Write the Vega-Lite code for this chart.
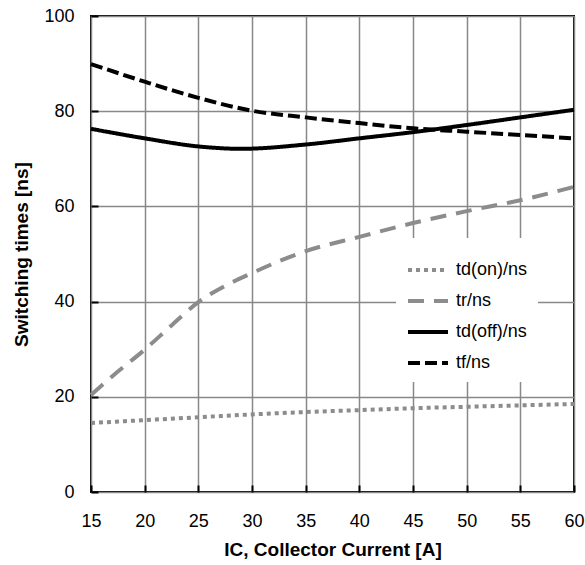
{
  "$schema": "https://vega.github.io/schema/vega-lite/v6.json",
  "width": 483,
  "height": 476,
  "autosize": {"type": "none"},
  "padding": {"left": 91, "top": 16, "right": 11, "bottom": 73},
  "background": "white",
  "config": {
    "font": "Liberation Sans",
    "view": {"stroke": "black", "strokeWidth": 2},
    "axis": {
      "gridColor": "#888888",
      "gridWidth": 1.5,
      "gridOpacity": 1,
      "domain": false,
      "tickColor": "black",
      "tickWidth": 2,
      "tickSize": -7,
      "labelFont": "Liberation Sans",
      "labelFontSize": 18,
      "labelColor": "black",
      "labelFlush": false,
      "labelOverlap": false,
      "titleFont": "Liberation Sans",
      "titleFontSize": 19,
      "titleFontWeight": "bold",
      "titleColor": "black"
    }
  },
  "data": {
    "values": [
      {"I": 15, "t": 14.5, "s": "td(on)/ns"},
      {"I": 20, "t": 15.1, "s": "td(on)/ns"},
      {"I": 25, "t": 15.7, "s": "td(on)/ns"},
      {"I": 30, "t": 16.3, "s": "td(on)/ns"},
      {"I": 35, "t": 16.8, "s": "td(on)/ns"},
      {"I": 40, "t": 17.2, "s": "td(on)/ns"},
      {"I": 45, "t": 17.6, "s": "td(on)/ns"},
      {"I": 50, "t": 17.9, "s": "td(on)/ns"},
      {"I": 55, "t": 18.2, "s": "td(on)/ns"},
      {"I": 60, "t": 18.5, "s": "td(on)/ns"},
      {"I": 15, "t": 20.4, "s": "tr/ns"},
      {"I": 17.5, "t": 25.3, "s": "tr/ns"},
      {"I": 20, "t": 29.9, "s": "tr/ns"},
      {"I": 22.5, "t": 35.0, "s": "tr/ns"},
      {"I": 25, "t": 39.9, "s": "tr/ns"},
      {"I": 27.5, "t": 43.3, "s": "tr/ns"},
      {"I": 30, "t": 46.0, "s": "tr/ns"},
      {"I": 35, "t": 50.6, "s": "tr/ns"},
      {"I": 40, "t": 53.6, "s": "tr/ns"},
      {"I": 45, "t": 56.5, "s": "tr/ns"},
      {"I": 50, "t": 59.0, "s": "tr/ns"},
      {"I": 55, "t": 61.3, "s": "tr/ns"},
      {"I": 60, "t": 64.1, "s": "tr/ns"},
      {"I": 15, "t": 76.3, "s": "td(off)/ns"},
      {"I": 20, "t": 74.3, "s": "td(off)/ns"},
      {"I": 25, "t": 72.6, "s": "td(off)/ns"},
      {"I": 29, "t": 72.1, "s": "td(off)/ns"},
      {"I": 35, "t": 73.0, "s": "td(off)/ns"},
      {"I": 40, "t": 74.3, "s": "td(off)/ns"},
      {"I": 45, "t": 75.6, "s": "td(off)/ns"},
      {"I": 50, "t": 77.1, "s": "td(off)/ns"},
      {"I": 55, "t": 78.7, "s": "td(off)/ns"},
      {"I": 60, "t": 80.3, "s": "td(off)/ns"},
      {"I": 15, "t": 89.9, "s": "tf/ns"},
      {"I": 20, "t": 86.2, "s": "tf/ns"},
      {"I": 25, "t": 82.8, "s": "tf/ns"},
      {"I": 30, "t": 80.1, "s": "tf/ns"},
      {"I": 35, "t": 78.7, "s": "tf/ns"},
      {"I": 40, "t": 77.5, "s": "tf/ns"},
      {"I": 45, "t": 76.4, "s": "tf/ns"},
      {"I": 50, "t": 75.7, "s": "tf/ns"},
      {"I": 55, "t": 75.0, "s": "tf/ns"},
      {"I": 60, "t": 74.3, "s": "tf/ns"}
    ]
  },
  "mark": {"type": "line", "interpolate": "monotone", "strokeWidth": 4, "strokeCap": "butt"},
  "encoding": {
    "x": {
      "field": "I", "type": "quantitative",
      "scale": {"domain": [15, 60], "nice": false, "zero": false},
      "axis": {"values": [15, 20, 25, 30, 35, 40, 45, 50, 55, 60], "title": "IC, Collector Current [A]", "labelPadding": 27, "titlePadding": 10}
    },
    "y": {
      "field": "t", "type": "quantitative",
      "scale": {"domain": [0, 100], "nice": false},
      "axis": {"values": [0, 20, 40, 60, 80, 100], "title": "Switching times [ns]", "labelPadding": 24, "titlePadding": 12}
    },
    "color": {
      "field": "s", "type": "nominal",
      "scale": {"domain": ["td(on)/ns", "tr/ns", "td(off)/ns", "tf/ns"], "range": ["#8c8c8c", "#8c8c8c", "#000000", "#000000"]},
      "legend": {
        "title": null,
        "orient": "none",
        "legendX": 305,
        "legendY": 222,
        "fillColor": "white",
        "padding": 10,
        "symbolType": "stroke",
        "symbolSize": 1600,
        "symbolStrokeWidth": 4,
        "labelFontSize": 18,
        "labelColor": "black",
        "labelOffset": 6,
        "rowPadding": -10
      }
    },
    "strokeDash": {
      "field": "s", "type": "nominal",
      "scale": {"domain": ["td(on)/ns", "tr/ns", "td(off)/ns", "tf/ns"], "range": [[4, 4], [16, 10], [1, 0], [12, 5]]},
      "legend": null
    }
  }
}
